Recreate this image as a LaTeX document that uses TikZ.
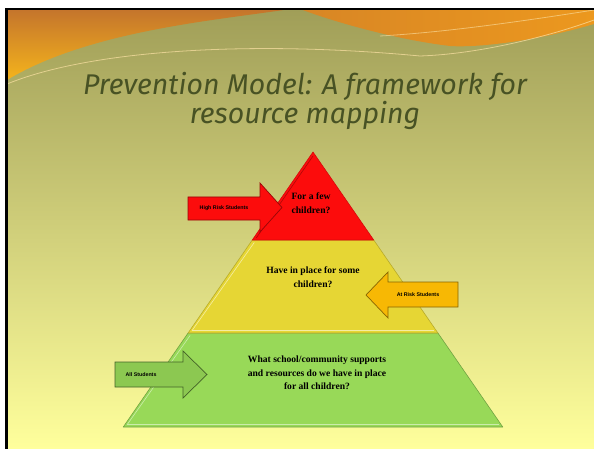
\documentclass[tikz,border=0pt]{standalone}
\usepackage{fontspec}
\setmainfont{Liberation Serif}
\newfontfamily\titlefont{Fira Sans}
\newfontfamily\tagfont{Liberation Sans}
\usetikzlibrary{calc}

\definecolor{slidetop}{RGB}{160,158,88}
\definecolor{slidemid}{RGB}{220,218,132}
\definecolor{slidebot}{RGB}{255,255,156}
\definecolor{waveA}{RGB}{196,116,44}
\definecolor{waveB}{RGB}{244,180,28}
\definecolor{waveC}{RGB}{236,152,30}
\definecolor{titlegreen}{RGB}{72,82,36}
\definecolor{tierred}{RGB}{252,12,12}
\definecolor{tieryellow}{RGB}{230,214,52}
\definecolor{tiergreen}{RGB}{152,217,88}
\definecolor{arrowgold}{RGB}{247,184,4}

\begin{document}
\begin{tikzpicture}[
            x=1pt, y=-1pt,
            every node/.style={align=center, inner sep=0pt},
            tiertext/.style={font=\bfseries\fontsize{9.6}{13.5}\selectfont},
            tagtext/.style={font=\tagfont\bfseries\fontsize{5.3}{6}\selectfont},
            tier/.style={line width=0.6pt, line join=round},
            blockarrow/.style={line width=0.7pt, line join=miter}
        ]

        % Constants for the pyramid
        \def\cx{313}       % axis of the pyramid
        \def\yapex{152}    % apex
        \def\yI{240}       % red / yellow
        \def\yII{333}      % yellow / green
        \def\ybase{427}    % base
        \def\slope{0.69}   % half width per unit of height

        \pgfmathsetmacro{\wI}{\slope*(\yI-\yapex)}
        \pgfmathsetmacro{\wII}{\slope*(\yII-\yapex)}
        \pgfmathsetmacro{\wIII}{\slope*(\ybase-\yapex)}

        \useasboundingbox (0,0) rectangle (594,449);

        % --- Slide background ---
        \fill[white] (0,0) rectangle (594,449);
        \shade[top color=slidetop, middle color=slidemid, bottom color=slidebot] (7,9) rectangle (594,449);

        % --- Top wave ---
        \shade[top color=waveA, bottom color=waveB] (7,9) -- (290,9) .. controls (220,20) and (90,30) .. (7,80) -- cycle;
        \shade[left color=waveA!50!waveC, right color=waveC] (300,9) -- (594,9) -- (594,24) .. controls (540,40) and (480,48) .. (450,46) .. controls (400,40) and (340,24) .. (300,9) -- cycle;
        \draw[white!60!waveB, line width=0.8pt, opacity=0.7] (7,84) .. controls (90,50) and (250,40) .. (420,56) .. controls (480,54) and (550,36) .. (594,20);
        \draw[white!60!waveB, line width=0.8pt, opacity=0.6] (380,36) .. controls (450,32) and (530,20) .. (594,10);

        % --- Frame ---
        \draw[black, line width=2.6pt] (6.3,449) -- (6.3,9) -- (594,9);

        % --- Title ---
        \node[font=\titlefont\itshape\fontsize{28.5}{27}\selectfont, text=titlegreen] (title) at (305,101) {Prevention Model: A framework for\\resource mapping};

        % --- Pyramid tiers ---
        \fill[tiergreen] (\cx-\wII,\yII) -- (\cx+\wII,\yII) -- (\cx+\wIII,\ybase) -- (\cx-\wIII,\ybase) -- cycle;
        \draw[tier, tiergreen!50!white] (\cx-\wII+2,\yII+2.5) -- (\cx-\wIII+4,\ybase-2.5) -- (\cx+\wIII-4,\ybase-2.5);
        \draw[tier, tiergreen!75!black] (\cx-\wII,\yII) -- (\cx+\wII,\yII) -- (\cx+\wIII,\ybase) -- (\cx-\wIII,\ybase) -- cycle;

        \fill[tieryellow] (\cx-\wI,\yI) -- (\cx+\wI,\yI) -- (\cx+\wII,\yII) -- (\cx-\wII,\yII) -- cycle;
        \draw[tier, tieryellow!45!white] (\cx-\wI+2,\yI+2.5) -- (\cx-\wII+4,\yII-2.5) -- (\cx+\wII-4,\yII-2.5);
        \draw[tier, tieryellow!80!black] (\cx-\wI,\yI) -- (\cx+\wI,\yI) -- (\cx+\wII,\yII) -- (\cx-\wII,\yII) -- cycle;

        \fill[tierred] (\cx,\yapex) -- (\cx+\wI,\yI) -- (\cx-\wI,\yI) -- cycle;
        \draw[tier, tierred!70!black] (\cx,\yapex+4) -- (\cx-\wI+4,\yI-2);
        \draw[tier, tierred!85!black] (\cx,\yapex) -- (\cx+\wI,\yI) -- (\cx-\wI,\yI) -- cycle;

        % --- Tier questions ---
        \node[tiertext] (fewq) at (311,203) {For a few\\children?};
        \node[tiertext] (someq) at (313,277) {Have in place for some\\children?};
        \node[tiertext] (allq) at (317,373) {What school/community supports\\and resources do we have in place\\for all children?};

        % --- Block arrows ---
        % High risk: points right into the red tier
        \draw[blockarrow, fill=tierred, draw=tierred!60!black] (188,197) -- (260,197) -- (260,183) -- (282,207.5) -- (260,232) -- (260,220) -- (188,220) -- cycle;
        \node[tagtext] (highrisk) at (224,208.5) {High Risk Students};

        % At risk: points left into the yellow tier
        \draw[blockarrow, fill=arrowgold, draw=arrowgold!55!black] (458,282) -- (388,282) -- (388,272) -- (366,295) -- (388,318) -- (388,307) -- (458,307) -- cycle;
        \node[tagtext] (atrisk) at (418,295) {At Risk Students};

        % All students: points right into the green tier
        \draw[blockarrow, fill=tiergreen!92!black, draw=tiergreen!45!black] (115,362) -- (183,362) -- (183,351) -- (207,374.5) -- (183,398) -- (183,387) -- (115,387) -- cycle;
        \node[tagtext] (allstud) at (141,374.5) {All Students};

        \end{tikzpicture}
\end{document}
